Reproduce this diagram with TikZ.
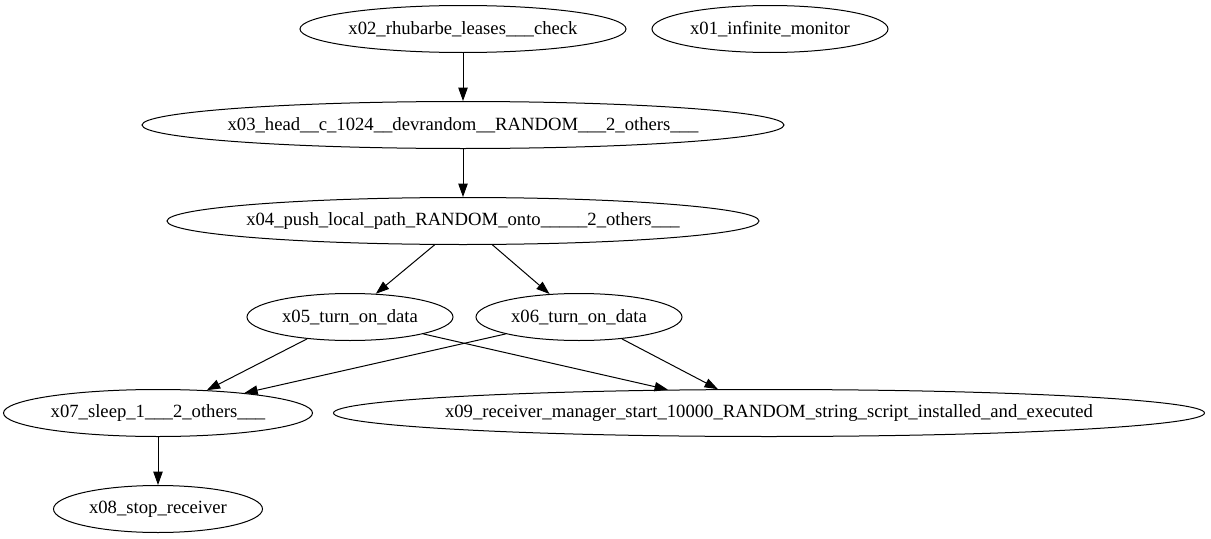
\documentclass[tikz,border=0pt]{standalone}
\usepackage{fontspec}
\setmainfont{Liberation Serif}
\usetikzlibrary{shapes.geometric,arrows.meta}

\begin{document}
\begin{tikzpicture}[x=0.75pt,y=-0.75pt,
    every node/.style = {ellipse,draw,line width=0.75pt,inner sep=0pt,
      minimum height=35.25pt,font=\fontsize{14}{16}\selectfont,
      execute at begin node={\hbox to 0pt\bgroup\hss},
      execute at end node={\hss\egroup}},
    every edge/.style = {draw,line width=0.75pt,
      -{Triangle[length=10pt,width=7pt]}},
  ]
  \useasboundingbox (0,0) rectangle (1211,539);
  % first rank
  \node[minimum width=244.5pt] (Rhubarbe) at (463,29)
    {x02\_rhubarbe\_leases\_\_\_check};
  \node[minimum width=177pt] (Monitor) at (770,29)
    {x01\_infinite\_monitor};
  \node[minimum width=481.5pt] (HeadRandom) at (463,125)
    {x03\_head\_\_c\_1024\_\_devrandom\_\_RANDOM\_\_\_2\_others\_\_\_};
  \node[minimum width=444pt] (PushPath) at (463,221)
    {x04\_push\_local\_path\_RANDOM\_onto\_\_\_\_\_2\_others\_\_\_};
  % turn on data
  \node[minimum width=154.5pt] (DataA) at (350,317) {x05\_turn\_on\_data};
  \node[minimum width=154.5pt] (DataB) at (579,317) {x06\_turn\_on\_data};
  \node[minimum width=231.75pt] (Sleep) at (158,413)
    {x07\_sleep\_1\_\_\_2\_others\_\_\_};
  \node[minimum width=653.25pt] (RcvMgr) at (769,413)
    {x09\_receiver\_manager\_start\_10000\_RANDOM\_string\_script\_installed\_and\_executed};
  \node[minimum width=156.75pt] (StopRcv) at (158,509) {x08\_stop\_receiver};

  \path (Rhubarbe.south) edge (HeadRandom.north)
        (HeadRandom.south) edge (PushPath.north)
        (PushPath.220) edge (DataA.42)
        (PushPath.321) edge (DataB.142)
        (DataA.207) edge (Sleep.25)
        (DataB.193) edge (Sleep.13)
        (DataA.347) edge (RcvMgr.167)
        (DataB.333) edge (RcvMgr.155)
        (Sleep.south) edge (StopRcv.north);
\end{tikzpicture}
\end{document}
